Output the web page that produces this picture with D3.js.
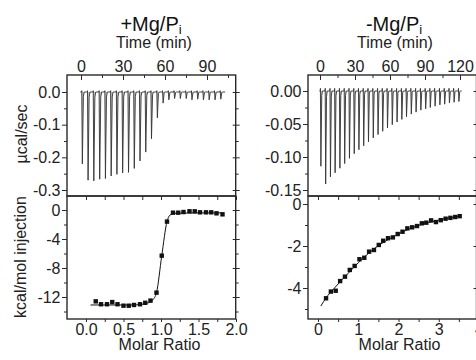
<!DOCTYPE html>
<html><head><meta charset="utf-8">
<script src="https://cdn.jsdelivr.net/npm/d3@7"></script>
<style>
html,body{margin:0;padding:0;background:#fff;}
svg{display:block;font-family:"Liberation Sans",Arial,sans-serif;}
</style></head><body>
<svg id="c" width="476" height="360"></svg>
<script>
// ---------- DATA ----------
const leftTitle = "+Mg/P", rightTitle = "-Mg/P", titleSub = "i";
const timeLabel = "Time (min)", powerLabel = "\u00b5cal/sec", heatLabel = "kcal/mol injection", ratioLabel = "Molar Ratio";

// left: +Mg/Pi raw thermogram (injection time in min, peak depth in ucal/sec)
const leftTimes = [0.5,4.6,8.7,12.9,17.0,21.1,25.2,29.3,33.5,37.6,41.7,45.8,49.9,54.1,58.2,62.3,66.4,70.5,74.7,78.8,82.9,87.0,91.1,95.3,99.4];
const leftPeaks = [-0.220,-0.270,-0.272,-0.267,-0.265,-0.257,-0.252,-0.248,-0.246,-0.234,-0.211,-0.184,-0.143,-0.079,-0.034,-0.024,-0.020,-0.020,-0.020,-0.024,-0.022,-0.024,-0.024,-0.024,-0.022];
const leftRunEnd = 103;
// left: integrated heats
const leftRatio = [0.13,0.20,0.28,0.35,0.42,0.50,0.57,0.64,0.72,0.79,0.86,0.94,1.01,1.08,1.16,1.23,1.30,1.38,1.45,1.52,1.60,1.67,1.74,1.82];
const leftHeat  = [-12.6,-13.0,-13.0,-12.7,-13.0,-13.2,-13.2,-13.1,-13.0,-12.8,-12.5,-11.4,-6.3,-1.6,-0.37,-0.37,-0.28,-0.18,-0.18,-0.32,-0.32,-0.32,-0.46,-0.60];
const leftFitRatio = [0.06,0.2,0.4,0.6,0.75,0.83,0.89,0.94,1.01,1.08,1.12,1.18,1.3,1.5,1.7,1.83];
const leftFitHeat  = [-13.1,-13.1,-13.1,-13.1,-13.0,-12.8,-12.4,-11.4,-6.3,-1.6,-0.7,-0.45,-0.42,-0.40,-0.40,-0.40];

// right: -Mg/Pi raw thermogram
const rightTimes = [0.3,4.4,8.5,12.5,16.6,20.7,24.8,28.9,32.9,37.0,41.1,45.2,49.3,53.3,57.4,61.5,65.6,69.7,73.7,77.8,81.9,86.0,90.1,94.1,98.2,102.3,106.4,110.5,114.5,118.6];
const rightPeaks = [-0.114,-0.141,-0.130,-0.124,-0.117,-0.110,-0.102,-0.095,-0.089,-0.083,-0.077,-0.071,-0.066,-0.061,-0.056,-0.051,-0.047,-0.043,-0.039,-0.035,-0.032,-0.029,-0.027,-0.025,-0.023,-0.021,-0.020,-0.018,-0.017,-0.016];
const rightRunEnd = 121.5;
// right: integrated heats
const rightRatio = [0.20,0.32,0.44,0.55,0.67,0.79,0.91,1.03,1.15,1.27,1.39,1.51,1.62,1.74,1.86,1.98,2.10,2.22,2.34,2.46,2.58,2.69,2.81,2.93,3.05,3.17,3.29,3.41,3.52];
const rightHeat  = [-4.49,-4.17,-4.13,-3.67,-3.46,-3.14,-2.95,-2.63,-2.56,-2.27,-2.19,-1.95,-1.75,-1.63,-1.59,-1.43,-1.32,-1.16,-1.11,-1.05,-0.92,-0.89,-0.78,-0.86,-0.77,-0.70,-0.66,-0.62,-0.58];
const rightFitRatio = [0.07,0.2,0.4,0.6,0.8,1.0,1.25,1.5,1.75,2.0,2.25,2.5,2.75,3.0,3.25,3.55];
const rightFitHeat  = [-4.86,-4.47,-4.02,-3.60,-3.20,-2.80,-2.36,-1.98,-1.69,-1.43,-1.20,-1.02,-0.88,-0.77,-0.67,-0.57];

// ticks
const leftTimeTicks = [0,30,60,90], leftTimeMinor = [15,45,75,105];
const rightTimeTicks = [0,30,60,90,120], rightTimeMinor = [15,45,75,105];
const leftPowerTicks = [0,-0.1,-0.2,-0.3], leftPowerLabels = ["0.0","-0.1","-0.2","-0.3"], leftPowerMinor = [-0.05,-0.15,-0.25];
const rightPowerTicks = [0,-0.05,-0.10,-0.15], rightPowerLabels = ["0.00","-0.05","-0.10","-0.15"], rightPowerMinor = [-0.025,-0.075,-0.125];
const leftHeatTicks = [0,-4,-8,-12], leftHeatLabels = ["0","-4","-8","-12"], leftHeatMinor = [-2,-6,-10,-14];
const rightHeatTicks = [0,-2,-4], rightHeatLabels = ["0","-2","-4"], rightHeatMinor = [-1,-3,-5];
const leftRatioTicks = [0,0.5,1,1.5,2], leftRatioLabels = ["0.0","0.5","1.0","1.5","2.0"], leftRatioMinor = [0.25,0.75,1.25,1.75];
const rightRatioTicks = [0,1,2,3,4], rightRatioLabels = ["0","1","2","3","4"], rightRatioMinor = [0.5,1.5,2.5,3.5];

// ---------- LAYOUT ----------
const FONT = '"Liberation Sans", Arial, sans-serif';
const INK = "#2a2a2a";
const yTop = 75, yMid = 196, yBot = 319;
const panels = [
  {x0:67, x1:235.7,
   time: d3.scaleLinear().domain([0,90]).range([81,207]),
   power: d3.scaleLinear().domain([0,-0.3]).range([92,190]),
   ratio: d3.scaleLinear().domain([0,2]).range([86,236]),
   heat: d3.scaleLinear().domain([0,-12]).range([210,297]),
   times:leftTimes, peaks:leftPeaks, runEnd:leftRunEnd,
   pr:leftRatio, ph:leftHeat, fr:leftFitRatio, fh:leftFitHeat,
   tT:leftTimeTicks, tM:leftTimeMinor, pT:leftPowerTicks, pL:leftPowerLabels, pM:leftPowerMinor,
   hT:leftHeatTicks, hL:leftHeatLabels, hM:leftHeatMinor, rT:leftRatioTicks, rL:leftRatioLabels, rM:leftRatioMinor,
   title:leftTitle, titleX:151, timeX:154, ratioX:159.5, yTitles:true},
  {x0:308, x1:476.5,
   time: d3.scaleLinear().domain([0,120]).range([320,460]),
   power: d3.scaleLinear().domain([0,-0.15]).range([91,190]),
   ratio: d3.scaleLinear().domain([0,4]).range([318,479]),
   heat: d3.scaleLinear().domain([0,-4]).range([204,288]),
   times:rightTimes, peaks:rightPeaks, runEnd:rightRunEnd,
   pr:rightRatio, ph:rightHeat, fr:rightFitRatio, fh:rightFitHeat,
   tT:rightTimeTicks, tM:rightTimeMinor, pT:rightPowerTicks, pL:rightPowerLabels, pM:rightPowerMinor,
   hT:rightHeatTicks, hL:rightHeatLabels, hM:rightHeatMinor, rT:rightRatioTicks, rL:rightRatioLabels, rM:rightRatioMinor,
   title:rightTitle, titleX:394, timeX:395, ratioX:399.5, yTitles:false}
];

const svg = d3.select("#c");

function drawAxis(gen, pos, vals, size, labels, pad, isX) {
  gen.tickValues(vals).tickSizeInner(size).tickSizeOuter(0).tickPadding(pad)
     .tickFormat((d,i) => labels ? labels[i] : "");
  const g = svg.append("g").attr("transform", isX ? `translate(0,${pos})` : `translate(${pos},0)`).call(gen);
  g.select(".domain").remove();
  g.attr("font-family", FONT).attr("font-size", 16);
  g.selectAll("line").attr("stroke", INK).attr("stroke-width", 1);
  g.selectAll("text").attr("fill", "#222");
  return g;
}

panels.forEach(p => {
  p.time.domain([p.time.invert(p.x0), p.time.invert(p.x1)]).range([p.x0, p.x1]);
  p.ratio.domain([p.ratio.invert(p.x0), p.ratio.invert(p.x1)]).range([p.x0, p.x1]);
  p.power.domain([p.power.invert(yMid), p.power.invert(yTop)]).range([yMid, yTop]);
  p.heat.domain([p.heat.invert(yBot), p.heat.invert(yMid)]).range([yBot, yMid]);

  const clipId = "clip" + p.x0;
  svg.append("clipPath").attr("id", clipId).append("rect")
     .attr("x", p.x0).attr("y", yTop).attr("width", p.x1 - p.x0).attr("height", yBot - yTop);

  // thermogram
  const pts = [[-0.5, 0]];
  p.times.forEach((t, i) => {
    pts.push([t, 0], [t + 0.05, 0.004], [t + 0.45, p.peaks[i]], [t + 1.2, p.peaks[i] * 0.06], [t + 1.8, 0]);
  });
  pts.push([p.runEnd, 0]);
  svg.append("path").attr("clip-path", `url(#${clipId})`)
     .attr("d", d3.line().x(d => p.time(d[0])).y(d => p.power(d[1]))(pts))
     .attr("fill", "#888").attr("fill-opacity", 0.5).attr("stroke", "#333").attr("stroke-width", 0.9).attr("stroke-linejoin", "miter");

  // fit line
  svg.append("path").attr("clip-path", `url(#${clipId})`)
     .attr("d", d3.line().curve(d3.curveMonotoneX).x(d => p.ratio(d[0])).y(d => p.heat(d[1]))(p.fr.map((r, i) => [r, p.fh[i]])))
     .attr("fill", "none").attr("stroke", "#111").attr("stroke-width", 1);
  // points
  svg.append("g").selectAll("rect").data(p.pr.map((r, i) => [r, p.ph[i]])).join("rect")
     .attr("x", d => p.ratio(d[0]) - 2.2).attr("y", d => p.heat(d[1]) - 2.2)
     .attr("width", 4.4).attr("height", 4.4).attr("fill", "#111");

  // frames
  svg.append("rect").attr("x", p.x0).attr("y", yTop).attr("width", p.x1 - p.x0).attr("height", yMid - yTop)
     .attr("fill", "none").attr("stroke", INK).attr("stroke-width", 1.4);
  svg.append("rect").attr("x", p.x0).attr("y", yMid).attr("width", p.x1 - p.x0).attr("height", yBot - yMid)
     .attr("fill", "none").attr("stroke", INK).attr("stroke-width", 1.4);

  drawAxis(d3.axisTop(p.time), yTop, p.tT, -5, p.tT.map(String), 3, true);
  drawAxis(d3.axisTop(p.time), yTop, p.tM, -3, null, 3, true);
  drawAxis(d3.axisLeft(p.power), p.x0, p.pT, 5, p.pL, 1.5, false);
  drawAxis(d3.axisLeft(p.power), p.x0, p.pM, 3, null, 1, false);
  drawAxis(d3.axisRight(p.power), p.x1, p.pT, 4, null, 1, false);
  drawAxis(d3.axisLeft(p.power), p.x1, p.pT, 3, null, 1, false);
  drawAxis(d3.axisRight(p.power), p.x1, p.pM, 3, null, 1, false);
  drawAxis(d3.axisLeft(p.heat), p.x0, p.hT, 5, p.hL, 1.5, false);
  drawAxis(d3.axisLeft(p.heat), p.x0, p.hM, 3, null, 1, false);
  drawAxis(d3.axisRight(p.heat), p.x1, p.hT, 4, null, 1, false);
  drawAxis(d3.axisLeft(p.heat), p.x1, p.hT, 3, null, 1, false);
  drawAxis(d3.axisRight(p.heat), p.x1, p.hM, 3, null, 1, false);
  drawAxis(d3.axisBottom(p.ratio), yBot, p.rT, 3, p.rL, 2, true);
  drawAxis(d3.axisBottom(p.ratio), yBot, p.rM, 3, null, 2, true);
  drawAxis(d3.axisBottom(p.ratio), yMid, p.rT, 4, null, 2, true);
  drawAxis(d3.axisBottom(p.ratio), yMid, p.rM, 4, null, 2, true);

  const t = svg.append("text").attr("x", p.titleX).attr("y", 31).attr("text-anchor", "middle")
     .attr("font-family", FONT).attr("font-size", 20).attr("fill", "#111");
  t.append("tspan").text(p.title);
  t.append("tspan").attr("font-size", 13).attr("dy", 3).text(titleSub);
  svg.append("text").attr("x", p.timeX).attr("y", 48).attr("text-anchor", "middle")
     .attr("font-family", FONT).attr("font-size", 16).attr("fill", "#222").text(timeLabel);
  svg.append("text").attr("x", p.ratioX).attr("y", 350).attr("text-anchor", "middle")
     .attr("font-family", FONT).attr("font-size", 16).attr("fill", "#222").text(ratioLabel);
  if (p.yTitles) {
    svg.append("text").attr("transform", "translate(27,134) rotate(-90)").attr("text-anchor", "middle")
       .attr("font-family", FONT).attr("font-size", 16).attr("fill", "#222").text(powerLabel);
    svg.append("text").attr("transform", "translate(26,257) rotate(-90)").attr("text-anchor", "middle")
       .attr("font-family", FONT).attr("font-size", 16).attr("fill", "#222").text(heatLabel);
  }
});
</script>
</body></html>
